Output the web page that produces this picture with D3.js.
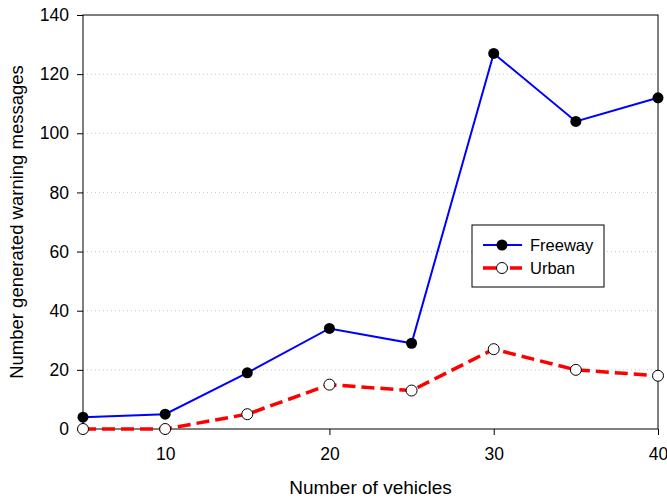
<!DOCTYPE html>
<html><head><meta charset="utf-8">
<script src="https://cdn.jsdelivr.net/npm/d3@7"></script>
<style>body{margin:0;background:#fff}svg{display:block}text{font-family:"Liberation Sans",Arial,sans-serif}</style>
</head><body>
<script>
const vehicles = [5, 10, 15, 20, 25, 30, 35, 40];
const freeway = [4, 5, 19, 34, 29, 127, 104, 112];
const urban = [0, 0, 5, 15, 13, 27, 20, 18];
const xTicks = [10, 20, 30, 40];
const yTicks = [0, 20, 40, 60, 80, 100, 120, 140];
const gridTicks = [20, 40, 60, 80, 100, 120];

const W = 667, H = 502;
const m = {l: 83, r: 9, t: 15, b: 73};
const svg = d3.select("body").append("svg").attr("width", W).attr("height", H);
const x = d3.scaleLinear().domain([5, 40]).range([m.l, W - m.r]);
const y = d3.scaleLinear().domain([0, 140]).range([H - m.b, m.t]);

// grid
svg.append("g").selectAll("line").data(gridTicks).join("line")
  .attr("x1", m.l).attr("x2", W - m.r).attr("y1", d => y(d)).attr("y2", d => y(d))
  .attr("stroke", "#c8c8c8").attr("stroke-width", 1).attr("stroke-dasharray", "1,3");

// frame
svg.append("rect").attr("x", m.l).attr("y", m.t).attr("width", W - m.r - m.l).attr("height", H - m.b - m.t)
  .attr("fill", "none").attr("stroke", "#000").attr("stroke-width", 1);

const xAxis = svg.append("g").attr("transform", `translate(0,${H - m.b})`)
  .call(d3.axisBottom(x).tickValues(xTicks).tickSize(6).tickPadding(13).tickFormat(d3.format("d")));
const yAxis = svg.append("g").attr("transform", `translate(${m.l},0)`)
  .call(d3.axisLeft(y).tickValues(yTicks).tickSize(6).tickPadding(8).tickFormat(d3.format("d")));
[xAxis, yAxis].forEach(a => {
  a.select(".domain").remove();
  a.selectAll("text").attr("font-size", 17.5).attr("fill", "#000").style("font-family", '"Liberation Sans",Arial,sans-serif');
  a.selectAll("line").attr("stroke", "#000");
});

const line = d3.line().x((d, i) => x(vehicles[i])).y(d => y(d));
svg.append("path").datum(freeway).attr("d", line).attr("fill", "none").attr("stroke", "#0000ff").attr("stroke-width", 2);
svg.append("path").datum(urban).attr("d", line).attr("fill", "none").attr("stroke", "#ff0000").attr("stroke-width", 3.5).attr("stroke-dasharray", "13,6");

svg.append("g").selectAll("circle").data(freeway).join("circle")
  .attr("cx", (d, i) => x(vehicles[i])).attr("cy", d => y(d)).attr("r", 5.5).attr("fill", "#000");
svg.append("g").selectAll("circle").data(urban).join("circle")
  .attr("cx", (d, i) => x(vehicles[i])).attr("cy", d => y(d)).attr("r", 5.5).attr("fill", "#fff").attr("stroke", "#000").attr("stroke-width", 1);

// legend
const lg = svg.append("g");
lg.append("rect").attr("x", 472).attr("y", 225).attr("width", 132).attr("height", 62).attr("fill", "#fff").attr("stroke", "#000");
lg.append("line").attr("x1", 483).attr("x2", 522).attr("y1", 245).attr("y2", 245).attr("stroke", "#0000ff").attr("stroke-width", 2);
lg.append("circle").attr("cx", 502).attr("cy", 245).attr("r", 5.5).attr("fill", "#000");
lg.append("line").attr("x1", 483).attr("x2", 522).attr("y1", 268).attr("y2", 268).attr("stroke", "#ff0000").attr("stroke-width", 3.5).attr("stroke-dasharray", "13,6,2,6");
lg.append("circle").attr("cx", 502).attr("cy", 268).attr("r", 5.5).attr("fill", "#fff").attr("stroke", "#000");
lg.append("text").attr("x", 530).attr("y", 251).attr("font-size", 16.5).text("Freeway");
lg.append("text").attr("x", 530).attr("y", 274).attr("font-size", 16.5).text("Urban");

svg.append("text").attr("x", (m.l + W - m.r) / 2).attr("y", 494).attr("text-anchor", "middle").attr("font-size", 19).text("Number of vehicles");
svg.append("text").attr("transform", `translate(23,${(m.t + H - m.b) / 2}) rotate(-90)`).attr("text-anchor", "middle").attr("font-size", 18.5).text("Number generated warning messages");
</script>
</body></html>
